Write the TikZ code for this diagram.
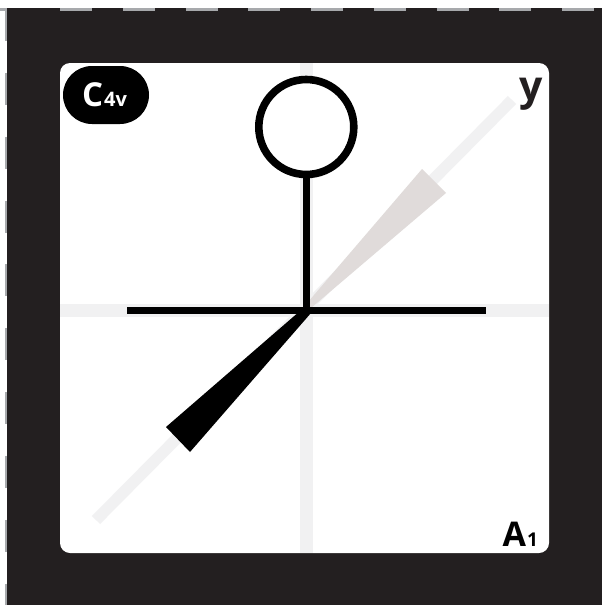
\documentclass[tikz,border=0pt]{standalone}
\usepackage{xcolor}
\usepackage{fontspec}
\setmainfont{Open Sans}
\definecolor{frame}{HTML}{231F20}
\definecolor{tick}{HTML}{A7A9AC}
\definecolor{axis}{HTML}{F1F1F2}
\definecolor{lobe}{HTML}{E0DBDA}
\tikzset{
  axisline/.style={axis, line width=12pt},
  bond/.style={black, line width=7.6pt},
  edgetick/.style={tick, line width=2.4pt},
  tag/.style={inner sep=0pt, anchor=base west},
}
\begin{document}
\begin{tikzpicture}[x=1pt, y=-1pt]
        \useasboundingbox (0,0) rectangle (602,605);
        \fill[white] (0,0) rectangle (602,605);
        \fill[frame] (6.5,8) rectangle (602,605);
        % dashed edge
        \draw[edgetick] (0,9.3) -- (6.5,9.3);
        \draw[edgetick, dash pattern=on 32pt off 30.75pt] (60,9.3) -- (602,9.3);
        \draw[edgetick, dash pattern=on 32pt off 31.85pt] (5.7,9) -- (5.7,605);
        % panel
        \fill[white, rounded corners=10pt] (60,63) rectangle (549,553);
        % axes
        \coordinate (origin) at (306.3,310.5);
        \coordinate (yfar) at (512,100);
        \coordinate (ynear) at (96,520);
        \draw[axisline, line width=13pt] (60,310.5) -- (549,310.5);
        \draw[axisline, line width=12.6pt] (306.3,63) -- (306.3,553);
        \draw[axisline, line width=11.4pt] (ynear) -- (yfar);
        % lobes
        \fill[lobe] (302,309) -- (422,169) -- (446,193) -- (311,308) -- cycle;
        \fill[black] (300,311) -- (166,427) -- (190,452) -- (311,313) -- cycle;
        % bonds
        \node[draw=black, line width=7.6pt, fill=white, circle, minimum size=95pt, inner sep=0pt] (ring) at (306.3,127) {};
        \coordinate (left) at (127,310.5);
        \coordinate (right) at (486,310.5);
        \draw[bond] (left) -- (right);
        \draw[bond] (ring.south) -- (origin);
        % labels
        \node[fill=black, rounded corners=29pt, minimum width=86pt, minimum height=58pt, inner sep=0pt] (badge) at (106,95) {};
        \node[tag, white, font=\bfseries\fontsize{33}{33}\selectfont] (cname) at (82,106) {C\kern1pt\fontsize{20}{20}\selectfont 4v};
        \node[tag, frame, anchor=base, font=\bfseries\fontsize{41}{41}\selectfont] (ylabel) at (531.5,100) {y};
        \node[tag, black, font=\bfseries\fontsize{34}{34}\selectfont] (irrep) at (502.5,546.7) {A\kern1pt\fontsize{19}{19}\selectfont 1};
\end{tikzpicture}
\end{document}
